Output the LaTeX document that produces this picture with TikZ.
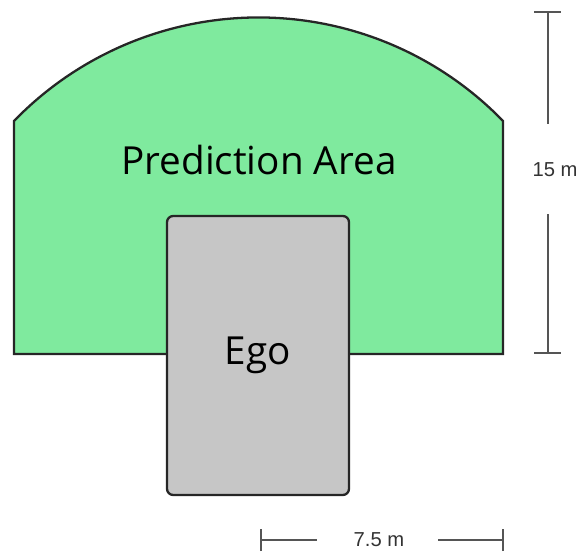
\documentclass[tikz,border=0pt]{standalone}
\usepackage{fontspec}
\setmainfont{Open Sans}
\newfontfamily\dimfont{Liberation Sans}
\usetikzlibrary{positioning}
\definecolor{area}{HTML}{7FEA9E}
\definecolor{egofill}{HTML}{C6C6C6}
\definecolor{edge}{HTML}{262626}
\definecolor{dimline}{HTML}{555555}

\begin{document}
\begin{tikzpicture}[
    x=0.02cm, y=0.02cm,
    arealine/.style={draw=edge, fill=area, line width=1.3pt, line join=miter},
    egobox/.style={draw=edge, fill=egofill, line width=1.3pt, rounded corners=3.5pt,
                   minimum width=3.64cm, minimum height=5.58cm,
                   font=\fontsize{22}{26}\selectfont},
    dim/.style={dimline, line width=0.6pt},
    dimlabel/.style={font=\dimfont\fontsize{11.5}{13}\selectfont, text=black!80, inner sep=1pt}
]
\useasboundingbox (0,0) rectangle (577,551);

% prediction area
\draw[arealine] (14,197) -- (14,430)
    arc[start angle=135.9, end angle=44.1, radius=340.5]
    -- (503,197) -- cycle;
\node[font=\fontsize{22}{26}\selectfont] (area) at (259,391) {Prediction Area};

% ego vehicle
\node[egobox] (ego) at (258,195.5) {Ego};

% 15 m dimension
\node[dimlabel] (len) at (555,381) {15 m};
\coordinate (lenTop) at (548,539);
\coordinate (lenBot) at (548,198);
\draw[dim] (len.north -| lenTop) ++(0,37) -- (lenTop);
\draw[dim] (len.south -| lenBot) ++(0,-35) -- (lenBot);
\draw[dim] ([xshift=-0.28cm]lenTop) -- ([xshift=0.26cm]lenTop);
\draw[dim] ([xshift=-0.28cm]lenBot) -- ([xshift=0.26cm]lenBot);

% 7.5 m dimension
\node[dimlabel] (wid) at (379,11) {7.5 m};
\coordinate (widLeft) at (261,11);
\coordinate (widRight) at (503,11);
\draw[dim] (widLeft) -- ([xshift=-0.7cm]wid.west);
\draw[dim] ([xshift=0.64cm]wid.east) -- (widRight);
\draw[dim] ([yshift=-0.22cm]widLeft) -- ([yshift=0.22cm]widLeft);
\draw[dim] ([yshift=-0.22cm]widRight) -- ([yshift=0.22cm]widRight);

\end{tikzpicture}
\end{document}
